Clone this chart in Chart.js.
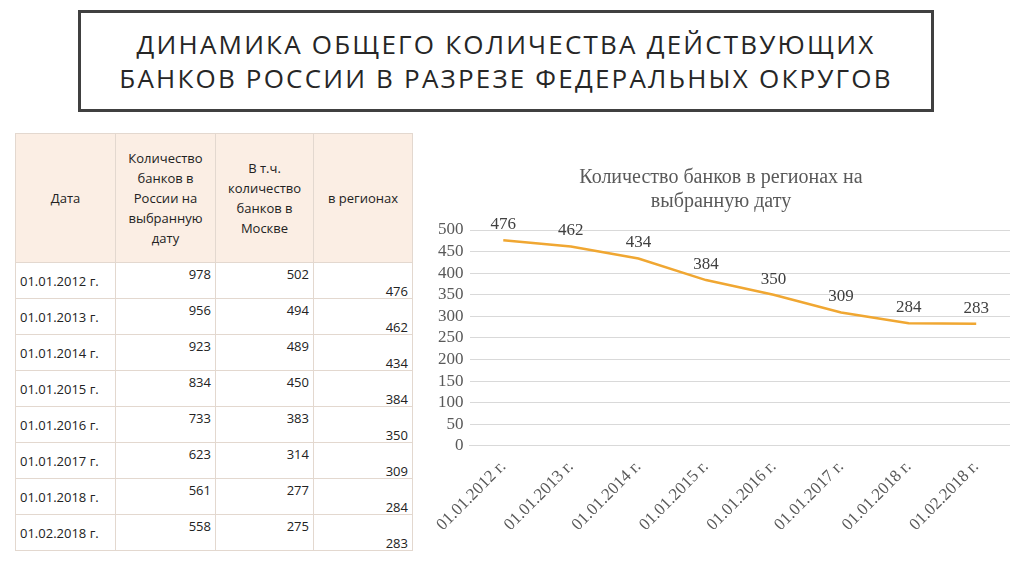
<!DOCTYPE html>
<html><head><meta charset="utf-8">
<script src="https://cdn.jsdelivr.net/npm/chart.js@4"></script>
<style>
body{margin:0;width:1024px;height:574px;background:#fff;position:relative;overflow:hidden;font-family:"Open Sans",sans-serif;}
#title{position:absolute;left:78px;top:10px;width:850px;height:96px;border:3px solid #404040;display:flex;align-items:center;justify-content:center;text-align:center;font-size:26px;letter-spacing:2.2px;line-height:34px;color:#262626;font-family:"Open Sans",sans-serif;}
table{position:absolute;left:15px;top:133px;border-collapse:collapse;table-layout:fixed;width:397px;font-size:13px;line-height:14px;color:#222;}
td{border:1px solid #e3d8cf;padding:0 4px;box-sizing:border-box;overflow:hidden;}
tr.h td{background:#fbeee4;height:129px;text-align:center;vertical-align:middle;line-height:20px;padding:0 3px;}
tr.r td{height:36px;}
td.c2,td.c3{text-align:right;vertical-align:top;padding-top:4px}
td.c1{vertical-align:middle}
td.c4{text-align:right;vertical-align:bottom;padding-bottom:0}
#wrap{position:absolute;left:432px;top:158px;width:578px;height:380px;}
</style></head><body>
<div id="title">ДИНАМИКА ОБЩЕГО КОЛИЧЕСТВА ДЕЙСТВУЮЩИХ<br>БАНКОВ РОССИИ В РАЗРЕЗЕ ФЕДЕРАЛЬНЫХ ОКРУГОВ</div>
<table id="tbl"><colgroup><col style="width:100px"><col style="width:100px"><col style="width:98px"><col style="width:99px"></colgroup></table>
<div id="wrap"><canvas id="c"></canvas></div>
<script>
const dates=["01.01.2012 г.","01.01.2013 г.","01.01.2014 г.","01.01.2015 г.","01.01.2016 г.","01.01.2017 г.","01.01.2018 г.","01.02.2018 г."];
const totalBanks=[978,956,923,834,733,623,561,558];
const moscowBanks=[502,494,489,450,383,314,277,275];
const regionBanks=[476,462,434,384,350,309,284,283];
const headers=["Дата","Количество банков в России на выбранную дату","В т.ч. количество банков в Москве","в регионах"];

const t=document.getElementById('tbl');
let h='<tr class="h">'+headers.map((x,i)=>`<td class="c${i+1}">${x}</td>`).join('')+'</tr>';
dates.forEach((d,i)=>{h+=`<tr class="r"><td class="c1">${d}</td><td class="c2">${totalBanks[i]}</td><td class="c3">${moscowBanks[i]}</td><td class="c4">${regionBanks[i]}</td></tr>`;});
t.insertAdjacentHTML('beforeend',h);

const labelPlugin={id:'lbl',afterDatasetsDraw(ch){const ctx=ch.ctx;const m=ch.getDatasetMeta(0);ctx.save();ctx.font='17px "Liberation Serif"';ctx.fillStyle='#404040';ctx.textAlign='center';ctx.textBaseline='bottom';m.data.forEach((p,i)=>ctx.fillText(ch.data.datasets[0].data[i],p.x,p.y-7));ctx.restore();}};
new Chart(document.getElementById('c'),{type:'line',
data:{labels:dates,datasets:[{data:regionBanks,borderColor:'#f0a732',borderWidth:2.5,pointRadius:0,tension:0}]},
options:{responsive:true,maintainAspectRatio:false,animation:false,
layout:{padding:{left:0,right:0,top:0,bottom:0}},
plugins:{legend:{display:false},tooltip:{enabled:false},
title:{display:true,text:['Количество банков в регионах на','выбранную дату'],color:'#595959',font:{family:'Liberation Serif',size:20,weight:'normal',lineHeight:1.2},padding:{top:8,bottom:16}}},
scales:{y:{min:0,max:500,ticks:{stepSize:50,autoSkip:false,color:'#595959',font:{family:'Liberation Serif',size:17,lineHeight:1},padding:6},grid:{color:'#d9d9d9',drawTicks:false},border:{display:false}},
x:{offset:true,ticks:{color:'#595959',font:{family:'Liberation Serif',size:17},maxRotation:45,minRotation:45},grid:{display:false},border:{color:'#d9d9d9'}}}},
plugins:[labelPlugin]});
</script></body></html>
